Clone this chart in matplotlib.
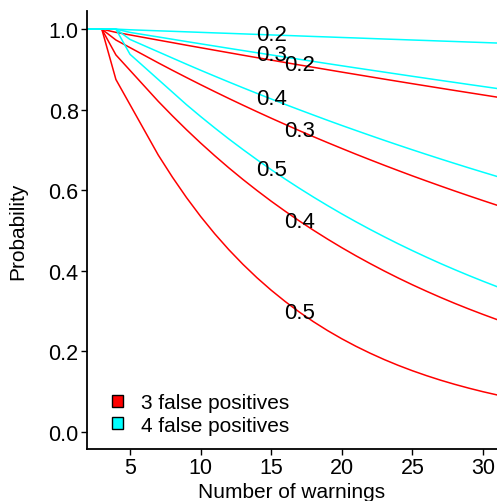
import matplotlib
matplotlib.use("Agg")
import matplotlib.pyplot as plt
from matplotlib.patches import Patch

plt.rcParams['font.family'] = ['Liberation Sans', 'DejaVu Sans']

# number of warnings
warnings = list(range(2, 32))

# 3 false positives, one curve per rate
red_02 = [1.0, 1.0, 0.992, 0.9856, 0.9792, 0.9728, 0.9665, 0.9601, 0.9539, 0.9477,
          0.9415, 0.9353, 0.9292, 0.9232, 0.9171, 0.9111, 0.9052, 0.8993, 0.8934, 0.8876,
          0.8818, 0.8760, 0.8703, 0.8646, 0.8590, 0.8534, 0.8478, 0.8423, 0.8368, 0.8313]
red_03 = [1.0, 1.0, 0.973, 0.9541, 0.9352, 0.9163, 0.8979, 0.8799, 0.8622, 0.8449,
          0.8279, 0.8113, 0.7950, 0.7790, 0.7634, 0.7480, 0.7330, 0.7183, 0.7039, 0.6897,
          0.6759, 0.6623, 0.6490, 0.6359, 0.6232, 0.6107, 0.5984, 0.5864, 0.5746, 0.5630]
red_04 = [1.0, 1.0, 0.936, 0.8976, 0.8592, 0.8208, 0.7849, 0.7504, 0.7174, 0.6859,
          0.6557, 0.6269, 0.5994, 0.5730, 0.5479, 0.5238, 0.5008, 0.4788, 0.4577, 0.4376,
          0.4184, 0.4000, 0.3824, 0.3656, 0.3496, 0.3342, 0.3195, 0.3055, 0.2921, 0.2792]
red_05 = [1.0, 1.0, 0.875, 0.8125, 0.75, 0.6875, 0.6328, 0.5820, 0.5352, 0.4922,
          0.4526, 0.4163, 0.3828, 0.3521, 0.3238, 0.2977, 0.2738, 0.2518, 0.2316, 0.2130,
          0.1959, 0.1801, 0.1656, 0.1523, 0.1401, 0.1288, 0.1185, 0.1090, 0.1002, 0.0922]

# 4 false positives
cyan_02 = [1.0, 1.0, 1.0, 0.9984, 0.9971, 0.9958, 0.9946, 0.9933, 0.9920, 0.9907,
           0.9895, 0.9882, 0.9869, 0.9856, 0.9844, 0.9831, 0.9818, 0.9806, 0.9793, 0.9781,
           0.9768, 0.9755, 0.9743, 0.9730, 0.9718, 0.9705, 0.9693, 0.9680, 0.9668, 0.9655]
cyan_03 = [1.0, 1.0, 1.0, 0.9919, 0.9862, 0.9806, 0.9749, 0.9692, 0.9636, 0.9580,
           0.9524, 0.9469, 0.9414, 0.9360, 0.9305, 0.9251, 0.9198, 0.9144, 0.9091, 0.9038,
           0.8986, 0.8934, 0.8882, 0.8830, 0.8779, 0.8728, 0.8678, 0.8627, 0.8577, 0.8527]
cyan_04 = [1.0, 1.0, 1.0, 0.9744, 0.9590, 0.9437, 0.9283, 0.9130, 0.8980, 0.8833,
           0.8688, 0.8545, 0.8405, 0.8267, 0.8131, 0.7998, 0.7867, 0.7737, 0.7610, 0.7486,
           0.7363, 0.7242, 0.7123, 0.7006, 0.6891, 0.6778, 0.6667, 0.6557, 0.6450, 0.6344]
cyan_05 = [1.0, 1.0, 1.0, 0.9375, 0.9063, 0.875, 0.8438, 0.8125, 0.7832, 0.7549,
           0.7275, 0.7012, 0.6758, 0.6513, 0.6277, 0.6050, 0.5831, 0.5620, 0.5416, 0.5220,
           0.5031, 0.4849, 0.4673, 0.4504, 0.4341, 0.4183, 0.4032, 0.3886, 0.3745, 0.3609]

rates = ['0.2', '0.3', '0.4', '0.5']
red_series = [red_02, red_03, red_04, red_05]
cyan_series = [cyan_02, cyan_03, cyan_04, cyan_05]
red_label_at = 17
cyan_label_at = 15

fig = plt.figure(figsize=(4.97, 5.02), dpi=100)
ax = fig.add_axes([0.175, 0.1036, 0.825, 0.8725])

for ys in red_series:
    ax.plot(warnings, ys, color='#FF0000', lw=1.1)
for ys in cyan_series:
    ax.plot(warnings, ys, color='#00FFFF', lw=1.1)

# rate labels sitting on the curves
for rate, ys in zip(rates, red_series):
    i = warnings.index(red_label_at)
    ax.text(red_label_at, ys[i], rate, ha='center', va='center', fontsize=16)
for rate, ys in zip(rates, cyan_series):
    i = warnings.index(cyan_label_at)
    ax.text(cyan_label_at, ys[i], rate, ha='center', va='center', fontsize=16)

ax.set_xlim(1.95, 31.0)
ax.set_ylim(-0.042, 1.045)
ax.set_xticks([5, 10, 15, 20, 25, 30])
ax.set_yticks([0.0, 0.2, 0.4, 0.6, 0.8, 1.0])
ax.set_yticklabels(['0.0', '0.2', '0.4', '0.6', '0.8', '1.0'])
ax.tick_params(labelsize=15.5, colors='black', length=4, width=1.0, pad=2)
ax.set_xlabel('Number of warnings', fontsize=15, labelpad=3)
ax.set_ylabel('Probability', fontsize=15, labelpad=15)

for side in ['top', 'right']:
    ax.spines[side].set_visible(False)
for side in ['left', 'bottom']:
    ax.spines[side].set_linewidth(1.3)

handles = [Patch(facecolor='#FF0000', edgecolor='black', lw=1.0),
           Patch(facecolor='#00FFFF', edgecolor='black', lw=1.0)]
ax.legend(handles, ['3 false positives', '4 false positives'],
          loc='lower left', bbox_to_anchor=(0.02, -0.005), frameon=False,
          fontsize=15, handlelength=0.55, handleheight=0.55,
          handletextpad=0.85, labelspacing=0.15, borderpad=0.3)

fig.savefig('out.png', dpi=100)
